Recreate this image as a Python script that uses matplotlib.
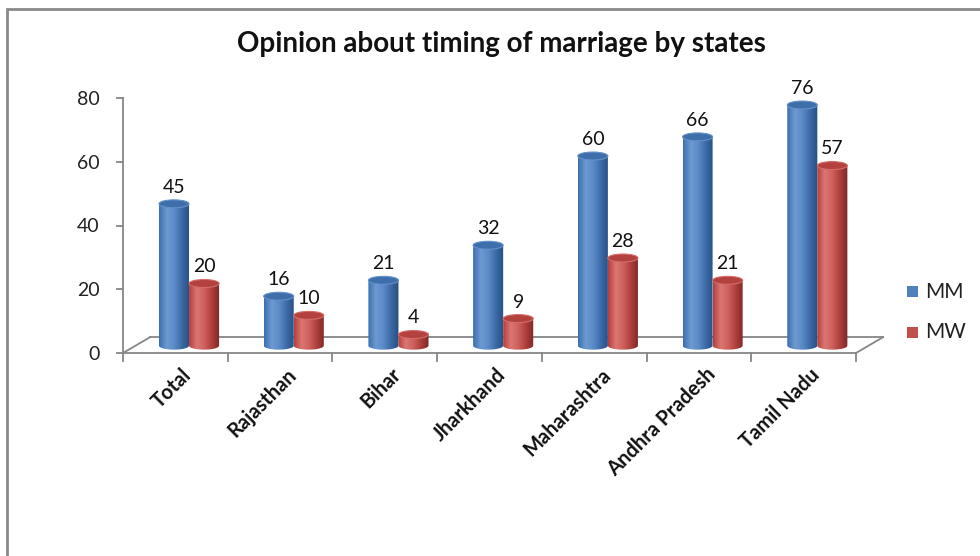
import numpy as np
import matplotlib.pyplot as plt
from matplotlib.patches import Ellipse, PathPatch, Rectangle
from matplotlib.path import Path
from matplotlib.colors import LinearSegmentedColormap

plt.rcParams['font.family'] = ['Lato', 'DejaVu Sans']

# data
states = ['Total', 'Rajasthan', 'Bihar', 'Jharkhand', 'Maharashtra',
          'Andhra Pradesh', 'Tamil Nadu']
mm = [45, 16, 21, 32, 60, 66, 76]
mw = [20, 10, 4, 9, 28, 21, 57]
series_names = ['MM', 'MW']
yticks = [0, 20, 40, 60, 80]

title = 'Opinion about timing of marriage by states'

# colours (Office 2007 look)
blue_stops = ['#3d6fae', '#6e9ad2', '#5b8ac7', '#3b6aa6', '#264f82']
red_stops = ['#b3403d', '#dc7774', '#cd5f5c', '#ad3e3b', '#7e2826']
blue_top = '#3f6fab'
red_top = '#b3413e'
blue_key = '#4f81bd'
red_key = '#c0504d'
axis_gray = '#868686'

fig = plt.figure(figsize=(9.8, 5.56), dpi=100)

# outer chart frame (runs past right and bottom edges)
fig.patches.append(Rectangle((7 / 980, -0.1), 1.2, 1 - 9 / 556 + 0.1,
                             transform=fig.transFigure, fill=False,
                             edgecolor='#8a8a8a', linewidth=2))

ax = fig.add_axes([123 / 980, 1 - 353 / 556, 733 / 980, 255 / 556])
ax.set_xlim(0, len(states))
ax.set_ylim(0, 80)
for s in ax.spines.values():
    s.set_visible(False)
ax.set_xticks([])
ax.set_yticks(yticks)
ax.tick_params(axis='y', length=0, pad=17, labelsize=14, labelcolor='#222222')

# 3D floor / axis lines
dx, dy = 0.26, 5.0
n = len(states)
kw = dict(color=axis_gray, linewidth=1.3, clip_on=False, zorder=1)
ax.plot([0, n], [0, 0], **kw)
ax.plot([dx, n + dx], [dy, dy], **kw)
ax.plot([0, dx], [0, dy], **kw)
ax.plot([n, n + dx], [0, dy], **kw)
ax.plot([0, 0], [0, 80], **kw)
xpx = 733 / n  # pixels per category
for t in yticks:
    ax.plot([-6 / xpx, 0], [t, t], **kw)
for i in range(n + 1):
    ax.plot([i, i], [0, -2.5], **kw)

cmap_b = LinearSegmentedColormap.from_list('b', blue_stops)
cmap_r = LinearSegmentedColormap.from_list('r', red_stops)

bw = 0.287
base = 2.3
top_off = 1.8
eh = 2.5


def cylinder(xc, val, cmap, topc):
    x0, x1 = xc - bw / 2, xc + bw / 2
    yt = val + top_off
    yb = base
    th = np.linspace(np.pi, 2 * np.pi, 40)
    arc = np.column_stack([xc + bw / 2 * np.cos(th), yb + eh / 2 * np.sin(th)])
    verts = np.vstack([[x0, yt], arc, [x1, yt], [x0, yt]])
    codes = [Path.MOVETO] + [Path.LINETO] * (len(verts) - 2) + [Path.CLOSEPOLY]
    path = Path(verts, codes)
    patch = PathPatch(path, facecolor='none', edgecolor='none')
    ax.add_patch(patch)
    grad = np.linspace(0, 1, 64).reshape(1, -1)
    im = ax.imshow(grad, cmap=cmap, aspect='auto',
                   extent=[x0, x1, yb - eh, yt], zorder=3, origin='lower')
    im.set_clip_path(patch)
    ax.add_patch(Ellipse((xc, yt), bw, eh, facecolor=topc,
                         edgecolor=cmap(0.2), linewidth=0.8, zorder=4))


for i in range(n):
    xm = i + 0.487
    xw = i + 0.774
    cylinder(xm, mm[i], cmap_b, blue_top)
    cylinder(xw, mw[i], cmap_r, red_top)
    ax.text(xm, mm[i] + 7, str(mm[i]), ha='center', va='center',
            fontsize=14, color='#111111')
    ax.text(xw, mw[i] + 7, str(mw[i]), ha='center', va='center',
            fontsize=14, color='#111111')
    ax.text(i + 0.56, -3.6, states[i], rotation=45, rotation_mode='anchor',
            ha='right', va='top', fontsize=14.5, fontweight='bold',
            color='#111111')

ax.set_xlim(0, n)
ax.set_ylim(0, 80)

# title
fig.text(0.512, 1 - 44 / 556, title, ha='center', va='center',
         fontsize=20, fontweight='bold', color='#111111')

# legend
for k, (name, col) in enumerate(zip(series_names, [blue_key, red_key])):
    yc = 1 - (292 + 40 * k) / 556
    fig.patches.append(Rectangle((907 / 980, yc - 5.5 / 556), 11 / 980, 11 / 556,
                                 transform=fig.transFigure, facecolor=col,
                                 edgecolor='none'))
    fig.text(925 / 980, yc, name, ha='left', va='center', fontsize=15,
             color='#222222')

fig.savefig('out.png', dpi=100)
